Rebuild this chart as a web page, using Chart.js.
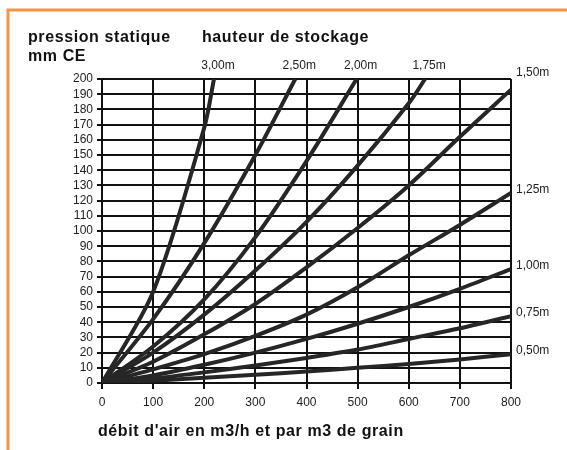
<!DOCTYPE html>
<html>
<head>
<meta charset="utf-8">
<script src="https://cdn.jsdelivr.net/npm/chart.js@4.4.1/dist/chart.umd.min.js"></script>
<style>
  html, body { margin: 0; padding: 0; background: #fff; }
  #wrap { width: 567px; height: 450px; position: relative; }
</style>
</head>
<body>
<div id="wrap"><canvas id="pressureChart" width="567" height="450"></canvas></div>
<script>
// hauteurs de stockage
const heights = ['3,00m', '2,50m', '2,00m', '1,75m', '1,50m', '1,25m', '1,00m', '0,75m', '0,50m'];

// débit d'air (m3/h par m3) pour chaque courbe
const flow300 = [0, 100, 200, 219];
const flow250 = [0, 100, 200, 300, 378];
const flow200 = [0, 100, 200, 300, 400, 498];
const flow175 = [0, 100, 200, 300, 400, 500, 600, 632];
const flowFull = [0, 100, 200, 300, 400, 500, 600, 700, 800];

// pression statique (mm CE)
const press300 = [0, 60, 168, 200];
const press250 = [0, 42, 92, 150, 200];
const press200 = [0, 24, 55, 96, 146, 200];
const press175 = [0, 20, 45, 74, 106, 143, 184, 200];
const press150 = [0, 14, 32, 52, 76, 102, 130, 162, 193];
const press125 = [0, 9, 19, 31, 45, 63, 84, 104, 125];
const press100 = [0, 5, 12, 20, 29, 39, 50, 62, 75];
const press075 = [0, 3, 7, 11.5, 16.5, 22, 29, 36, 44];
const press050 = [0, 1.5, 3.5, 5.5, 7.5, 10, 12.5, 15.5, 19];

const xTicks = [0, 100, 200, 300, 400, 500, 600, 700, 800];
const yMax = 200;

const flows = [flow300, flow250, flow200, flow175, flowFull, flowFull, flowFull, flowFull, flowFull];
const pressures = [press300, press250, press200, press175, press150, press125, press100, press075, press050];

const FONT = 'Liberation Sans, Arial, sans-serif';
Chart.defaults.font.family = FONT;

function toPoints(xs, ys) {
  return xs.map((x, i) => ({ x: x, y: ys[i] }));
}

const datasets = heights.map((h, i) => ({
  label: h,
  data: toPoints(flows[i], pressures[i]),
  borderColor: '#262626',
  borderWidth: 4,
  pointRadius: 0,
  fill: false,
  tension: 0.3
}));

// titres, étiquettes des courbes et cadre orange
const decorPlugin = {
  id: 'decor',
  afterDraw(chart) {
    const ctx = chart.ctx;
    const area = chart.chartArea;
    const xs = chart.scales.x;
    const ys = chart.scales.y;
    ctx.save();

    ctx.strokeStyle = '#f39545';
    ctx.lineWidth = 3;
    ctx.beginPath();
    ctx.moveTo(8, 450);
    ctx.lineTo(8, 10);
    ctx.lineTo(567, 10);
    ctx.stroke();

    ctx.fillStyle = '#111';
    ctx.textBaseline = 'middle';
    ctx.textAlign = 'left';
    ctx.font = 'bold 16px ' + FONT;
    ctx.letterSpacing = '0.6px';
    ctx.fillText('pression statique', 28, 38);
    ctx.fillText('mm CE', 28, 57);
    ctx.fillText('hauteur de stockage', 202, 38);
    ctx.fillText("débit d'air en m3/h et par m3 de grain", 98, 432);
    ctx.letterSpacing = '0px';

    ctx.font = '12px ' + FONT;
    ctx.fillStyle = '#222';
    heights.forEach((h, i) => {
      const fx = flows[i][flows[i].length - 1];
      const py = pressures[i][pressures[i].length - 1];
      if (fx < xTicks[xTicks.length - 1]) {
        ctx.textAlign = 'center';
        ctx.fillText(h, xs.getPixelForValue(fx) + 4, area.top - 13);
      } else {
        ctx.textAlign = 'left';
        let y = ys.getPixelForValue(py) - 3;
        if (py > yMax * 0.9) y = area.top - 6;
        ctx.fillText(h, area.right + 5, y);
      }
    });
    ctx.restore();
  }
};

const ctx = document.getElementById('pressureChart').getContext('2d');
const pressureChart = new Chart(ctx, {
  type: 'line',
  data: { datasets: datasets },
  options: {
    responsive: false,
    animation: false,
    devicePixelRatio: 1,
    layout: {
      padding: { top: 79, right: 56, left: 0, bottom: 0 }
    },
    plugins: {
      legend: { display: false },
      tooltip: { enabled: false }
    },
    scales: {
      x: {
        type: 'linear',
        min: 0,
        max: 800,
        afterFit: function(scale) { scale.height = 67; },
        afterBuildTicks: function(scale) { scale.ticks = xTicks.map(v => ({ value: v })); },
        ticks: { color: '#222', font: { size: 12 }, padding: 6, autoSkip: false, maxRotation: 0 },
        grid: { color: '#111', lineWidth: 2, tickLength: 6 },
        border: { color: '#111', width: 2 }
      },
      y: {
        min: 0,
        max: yMax,
        afterFit: function(scale) { scale.width = 102; },
        ticks: { stepSize: 10, color: '#222', font: { size: 12 }, padding: 4, autoSkip: false },
        grid: { color: '#111', lineWidth: 2, tickLength: 5 },
        border: { color: '#111', width: 2 }
      }
    }
  },
  plugins: [decorPlugin]
});
</script>
</body>
</html>
